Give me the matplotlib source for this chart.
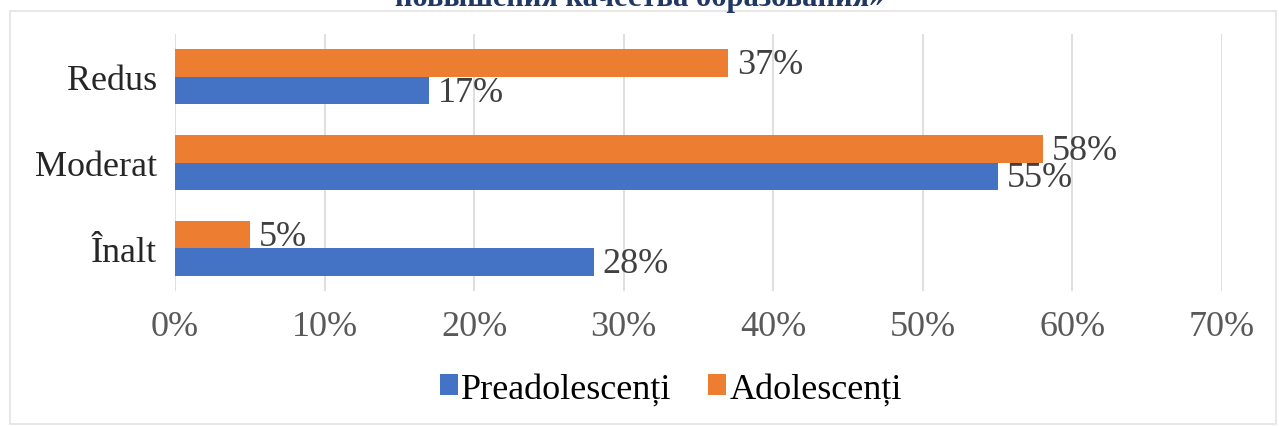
import matplotlib.pyplot as plt
from matplotlib.patches import Rectangle

# date
categorii = ['Înalt', 'Moderat', 'Redus']
preadolescenti = [28, 55, 17]
adolescenti = [5, 58, 37]
serii = ['Preadolescenți', 'Adolescenți']
titlu = 'повышения качества образования»'

plt.rcParams['font.family'] = ['Liberation Serif', 'DejaVu Serif']

fig = plt.figure(figsize=(12.79, 4.27), dpi=100)
ax = fig.add_axes([175 / 1279, 1 - 292 / 427, (1222 - 175) / 1279, (292 - 35) / 427])

# chenar exterior
fig.patches.append(Rectangle((10 / 1279, 0.005), 1266 / 1279, 1 - 12 / 427 - 0.005,
                             transform=fig.transFigure, fill=False,
                             edgecolor='#e3e3e3', linewidth=1.2))

# titlu (taiat sus)
fig.text(0.5, 1 - 6 / 427, titlu, ha='center', va='baseline', fontsize=22,
         fontweight='bold', color='#1f3864')

h = 0.32
y = list(range(len(categorii)))
b1 = ax.barh([v - h / 2 for v in y], preadolescenti, height=h, color='#4472c4', label=serii[0])
b2 = ax.barh([v + h / 2 for v in y], adolescenti, height=h, color='#ed7d31', label=serii[1])

for bars, vals in ((b1, preadolescenti), (b2, adolescenti)):
    for bar, v in zip(bars, vals):
        ax.text(bar.get_width() + 0.6, bar.get_y() + bar.get_height() / 2 - 0.02, f'{v}%',
                va='center', ha='left', fontsize=26, color='#404040')

ax.set_xlim(0, 70)
ax.set_ylim(-0.5, 2.5)
ax.set_xticks(range(0, 71, 10))
ax.set_xticklabels([f'{t}%' for t in range(0, 71, 10)])
ax.set_yticks(y)
ax.set_yticklabels(categorii)
ax.tick_params(axis='x', length=0, pad=14, labelsize=26, labelcolor='#595959')
ax.tick_params(axis='y', length=0, pad=13, labelsize=26, labelcolor='#262626')
ax.grid(axis='x', color='#d9d9d9', linewidth=1.2)
ax.set_axisbelow(True)
for s in ax.spines.values():
    s.set_visible(False)

fig.legend(handles=[b1, b2], loc='center', bbox_to_anchor=(671 / 1279, 1 - 390 / 427), ncol=2,
           frameon=False, fontsize=26, handlelength=0.5, handleheight=0.5,
           handletextpad=0.1, columnspacing=1.0)

fig.savefig('out.png', dpi=100, facecolor='white')
